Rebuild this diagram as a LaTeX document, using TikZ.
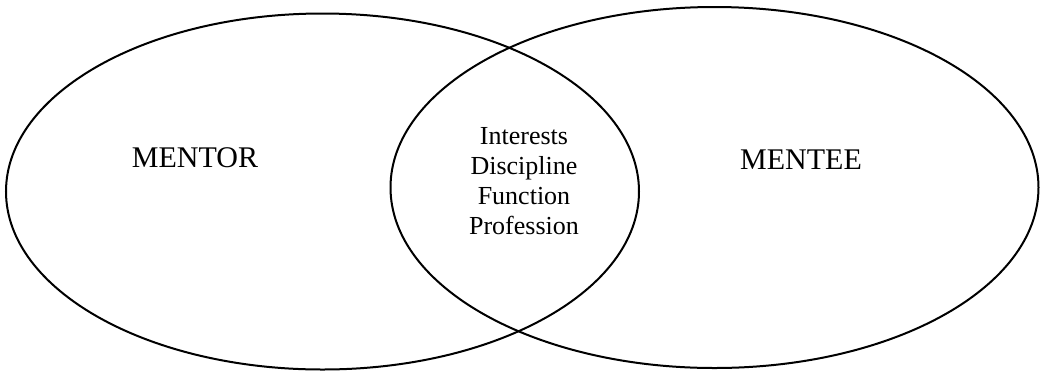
\documentclass[tikz,border=0pt]{standalone}
\usepackage{fontspec}
\setmainfont{Liberation Serif}

\begin{document}
\begin{tikzpicture}[x=0.5pt, y=-0.5pt,
  set/.style={draw=black, line width=1pt},
  party/.style={font=\fontsize{15}{18}\selectfont},
  overlap/.style={font=\fontsize{13}{15}\selectfont, align=center},
]
\useasboundingbox (0,0) rectangle (1040,371);

% the two sets, drawn in pixel units of the page
\draw[set] (322.5,191.5) ellipse [x radius=316.5, y radius=178];
\draw[set] (714.5,187.5) ellipse [x radius=324, y radius=180.5];

\node[party]   (mentor) at (195,158) {MENTOR};
\node[party]   (mentee) at (801,160) {MENTEE};
\node[overlap] (shared) at (524,181) {Interests\\Discipline\\Function\\Profession};
\end{tikzpicture}
\end{document}
